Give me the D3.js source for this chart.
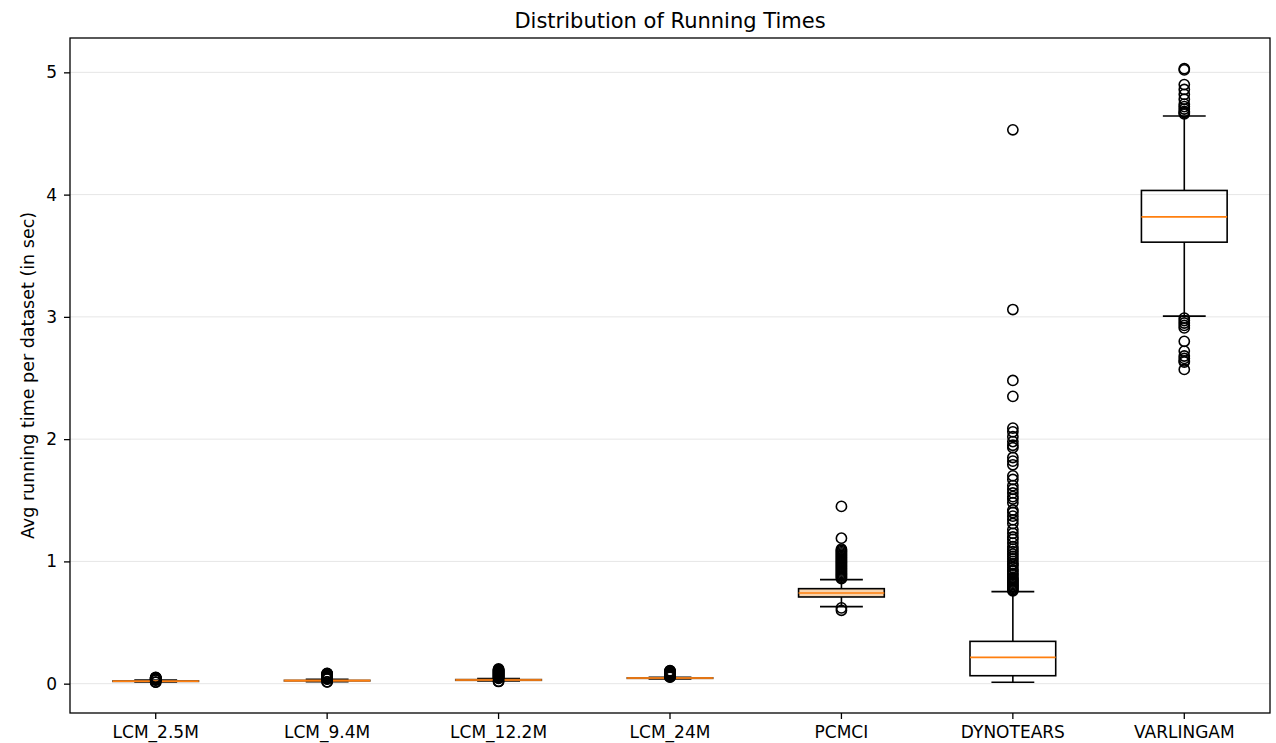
<!DOCTYPE html>
<html>
<head>
<meta charset="utf-8">
<script src="https://cdn.jsdelivr.net/npm/d3@7/dist/d3.min.js"></script>
<style>
  html, body { margin: 0; padding: 0; background: #fff; }
  svg { display: block; }
  text { font-family: "DejaVu Sans", sans-serif; fill: #000; }
</style>
</head>
<body>
<svg id="chart" width="1276" height="743"></svg>
<script>
// Box-plot summaries of average running time per dataset (seconds)
const categories = ["LCM_2.5M", "LCM_9.4M", "LCM_12.2M", "LCM_24M", "PCMCI", "DYNOTEARS", "VARLINGAM"];
const q1          = [0.018, 0.022, 0.027, 0.043, 0.709, 0.065, 3.611];
const medians     = [0.020, 0.025, 0.030, 0.046, 0.742, 0.215, 3.818];
const q3          = [0.023, 0.028, 0.034, 0.048, 0.777, 0.346, 4.034];
const whiskerLow  = [0.014, 0.016, 0.022, 0.039, 0.630, 0.011, 3.006];
const whiskerHigh = [0.029, 0.036, 0.042, 0.052, 0.851, 0.753, 4.643];
const outliers = [
  [0.012, 0.013, 0.030, 0.032, 0.034, 0.036, 0.038, 0.040, 0.042, 0.044, 0.046, 0.048, 0.050, 0.052],
  [0.014, 0.015, 0.037, 0.040, 0.043, 0.046, 0.049, 0.052, 0.055, 0.058, 0.061, 0.064, 0.067, 0.070,
   0.073, 0.076, 0.079, 0.082, 0.084],
  [0.018, 0.020, 0.043, 0.047, 0.051, 0.055, 0.059, 0.063, 0.067, 0.071, 0.075, 0.079, 0.083, 0.087,
   0.091, 0.095, 0.099, 0.103, 0.107, 0.111, 0.115, 0.120],
  [0.053, 0.056, 0.059, 0.062, 0.065, 0.068, 0.071, 0.074, 0.077, 0.080, 0.083, 0.086, 0.089, 0.092,
   0.095, 0.098, 0.101, 0.104, 0.106],
  [1.45, 1.19, 1.10, 1.09, 1.08, 1.07, 1.06, 1.05, 1.04, 1.03, 1.02, 1.01, 1.00, 0.99, 0.98, 0.97,
   0.96, 0.95, 0.94, 0.93, 0.92, 0.91, 0.90, 0.89, 0.88, 0.87, 0.86, 0.62, 0.60],
  [4.53, 3.06, 2.48, 2.35, 2.09, 2.06, 2.02, 1.98, 1.95, 1.93, 1.85, 1.82, 1.79, 1.70, 1.67, 1.62,
   1.59, 1.56, 1.53, 1.51, 1.48, 1.42, 1.40, 1.37, 1.34, 1.31, 1.26, 1.23, 1.20, 1.18, 1.15, 1.12,
   1.10, 1.08, 1.06, 1.04, 1.02, 1.00, 0.98, 0.97, 0.95, 0.93, 0.92, 0.90, 0.89, 0.87, 0.86, 0.85,
   0.84, 0.83, 0.82, 0.81, 0.80, 0.79, 0.78, 0.77, 0.76],
  [5.03, 5.02, 4.90, 4.86, 4.82, 4.78, 4.74, 4.72, 4.70, 4.68, 4.67, 4.66,
   2.99, 2.97, 2.95, 2.93, 2.91, 2.80, 2.72, 2.68, 2.66, 2.64, 2.63, 2.57]
];
const yTicks = [0, 1, 2, 3, 4, 5];
const titleText = "Distribution of Running Times";
const yLabelText = "Avg running time per dataset (in sec)";

const boxes = categories.map((c, i) => ({
  name: c, q1: q1[i], med: medians[i], q3: q3[i],
  lo: whiskerLow[i], hi: whiskerHigh[i], out: outliers[i]
}));

const W = 1276, H = 743;
const margin = { top: 38, right: 6, bottom: 30, left: 70 };
const svg = d3.select("#chart");

// y extent over every value, padded by 5% on each side
const allVals = boxes.flatMap(b => [b.lo, b.hi, ...b.out]);
const yMin = d3.min(allVals), yMax = d3.max(allVals);
const pad = (yMax - yMin) * 0.05;

const x = d3.scaleBand().domain(categories)
  .range([margin.left, W - margin.right]).paddingInner(0).paddingOuter(0);
const y = d3.scaleLinear().domain([yMin - pad, yMax + pad])
  .range([H - margin.bottom, margin.top]);

const bw = x.bandwidth() * 0.5;    // box width
const cw = bw * 0.5;               // whisker cap width
const cx = d => x(d) + x.bandwidth() / 2;

// horizontal grid
svg.append("g").selectAll("line").data(yTicks).join("line")
  .attr("x1", margin.left).attr("x2", W - margin.right)
  .attr("y1", d => y(d)).attr("y2", d => y(d))
  .attr("stroke", "#e6e6e6").attr("stroke-width", 1);

const g = svg.append("g");
boxes.forEach(b => {
  const c = cx(b.name);
  const gb = g.append("g");
  // whiskers
  gb.append("line").attr("x1", c).attr("x2", c).attr("y1", y(b.q3)).attr("y2", y(b.hi))
    .attr("stroke", "#000").attr("stroke-width", 1.6);
  gb.append("line").attr("x1", c).attr("x2", c).attr("y1", y(b.q1)).attr("y2", y(b.lo))
    .attr("stroke", "#000").attr("stroke-width", 1.6);
  // caps
  [b.lo, b.hi].forEach(v => gb.append("line")
    .attr("x1", c - cw / 2).attr("x2", c + cw / 2).attr("y1", y(v)).attr("y2", y(v))
    .attr("stroke", "#000").attr("stroke-width", 1.6));
  // box (short boxes take on the tint of their median line)
  const bh = y(b.q1) - y(b.q3);
  gb.append("rect").attr("x", c - bw / 2).attr("width", bw)
    .attr("y", y(b.q3)).attr("height", bh)
    .attr("fill", bh < 14 ? "#f7d3ad" : "none")
    .attr("stroke", bh < 3 ? "#8a5a2e" : "#000").attr("stroke-width", 1.6);
  // median
  gb.append("line").attr("x1", c - bw / 2).attr("x2", c + bw / 2)
    .attr("y1", y(b.med)).attr("y2", y(b.med))
    .attr("stroke", "#ff7f0e").attr("stroke-width", 1.6);
  // fliers
  gb.selectAll("circle").data(b.out).join("circle")
    .attr("cx", c).attr("cy", d => y(d)).attr("r", 5.1)
    .attr("fill", "none").attr("stroke", "#000").attr("stroke-width", 1.6);
});

// axes
const yAxis = d3.axisLeft(y).tickValues(yTicks).tickFormat(d3.format("d"))
  .tickSize(6).tickPadding(7);
const xAxis = d3.axisBottom(x).tickSize(6).tickPadding(7);

const gy = svg.append("g").attr("transform", `translate(${margin.left},0)`).call(yAxis);
const gx = svg.append("g").attr("transform", `translate(0,${H - margin.bottom})`).call(xAxis);
[gx, gy].forEach(a => {
  a.select(".domain").remove();
  a.selectAll(".tick line").attr("stroke", "#000").attr("stroke-width", 1.3);
  a.selectAll(".tick text").attr("font-size", 17).attr("font-family", "DejaVu Sans");
});

// frame
svg.append("rect")
  .attr("x", margin.left).attr("y", margin.top)
  .attr("width", W - margin.left - margin.right)
  .attr("height", H - margin.top - margin.bottom)
  .attr("fill", "none").attr("stroke", "#000").attr("stroke-width", 1.3);

// title and y label
svg.append("text")
  .attr("x", margin.left + (W - margin.left - margin.right) / 2).attr("y", 27.5)
  .attr("text-anchor", "middle").attr("font-size", 21).text(titleText);
svg.append("text")
  .attr("transform", `translate(34,${margin.top + (H - margin.top - margin.bottom) / 2}) rotate(-90)`)
  .attr("text-anchor", "middle").attr("font-size", 17.5).text(yLabelText);
</script>
</body>
</html>
